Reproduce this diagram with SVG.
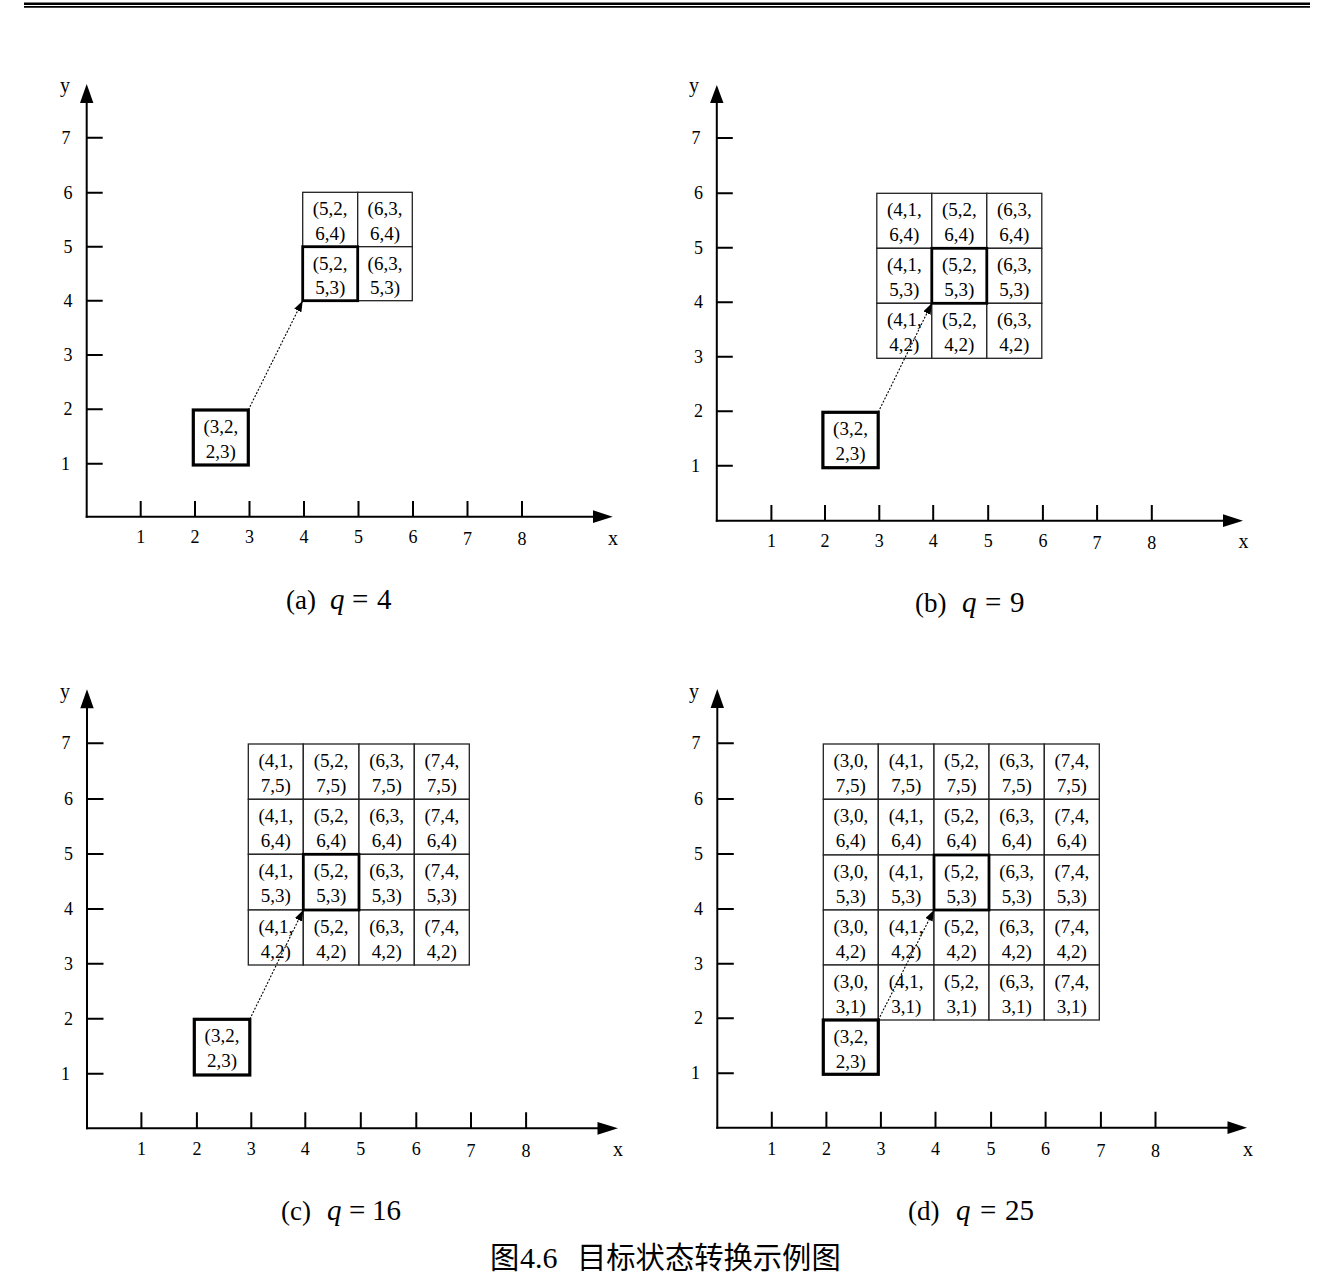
<svg xmlns="http://www.w3.org/2000/svg" width="1332" height="1280" viewBox="0 0 1332 1280">
<style>
.ax{stroke:#000;stroke-width:2;fill:none}
.ah{fill:#000}
.cell{fill:#fff;stroke:#222;stroke-width:1.3}
.bold{fill:none;stroke:#000;stroke-width:2.8}
.sbox{fill:#fff;stroke:#000;stroke-width:3.2}
.lbl{font-family:"Liberation Serif","Times New Roman",serif;font-size:18px;text-anchor:middle;fill:#000}
.ct{font-family:"Liberation Serif","Times New Roman",serif;font-size:19px;text-anchor:middle;fill:#000}
.cap{font-family:"Liberation Serif","Times New Roman",serif;font-size:27px;fill:#000}
.big{font-size:29px}
.it{font-style:italic}
.conn{stroke:#000;stroke-width:1.1;stroke-dasharray:2 1.6;fill:none}
.zh{font-family:"Noto Sans CJK SC","Noto Sans CJK JP",sans-serif;font-size:29.3px;fill:#000}
</style>
<defs>
<marker id="arr" markerUnits="userSpaceOnUse" markerWidth="12" markerHeight="9" refX="11" refY="4" orient="auto">
<path d="M0,0 L11,4 L0,8 z" fill="#000"/>
</marker>
</defs>
<rect width="1332" height="1280" fill="#fff"/>
<g id="header">
<line x1="24" y1="3.8" x2="1310" y2="3.8" stroke="#000" stroke-width="2.4"/>
<line x1="24" y1="6.9" x2="1310" y2="6.9" stroke="#000" stroke-width="1.6"/>
</g>

<!-- ===== Panel (a) ===== -->
<g id="axes-a">
<line class="ax" x1="86.7" y1="517.7" x2="86.7" y2="100"/>
<polygon class="ah" points="86.7,84 80,103 93.4,103"/>
<line class="ax" x1="85.7" y1="516.7" x2="596" y2="516.7"/>
<polygon class="ah" points="612.7,516.7 593,510.3 593,523.1"/>
<path class="ax" d="M86.7,137.7h16M86.7,192.7h16M86.7,246.7h16M86.7,300.7h16M86.7,355h16M86.7,409.3h16M86.7,463.7h16"/>
<path class="ax" d="M140.7,501v15.7M195,501v15.7M249.5,501v15.7M304,501v15.7M358.5,501v15.7M413,501v15.7M467.5,501v15.7M522,501v15.7"/>
<text class="lbl" x="66" y="143.7">7</text><text class="lbl" x="68" y="198.7">6</text><text class="lbl" x="68" y="252.7">5</text><text class="lbl" x="68" y="306.7">4</text><text class="lbl" x="68" y="361">3</text><text class="lbl" x="68" y="415.3">2</text><text class="lbl" x="65.5" y="469.7">1</text>
<text class="lbl" x="140.7" y="543">1</text><text class="lbl" x="195" y="543">2</text><text class="lbl" x="249.5" y="543">3</text><text class="lbl" x="304" y="543">4</text><text class="lbl" x="358.5" y="543">5</text><text class="lbl" x="413" y="543">6</text><text class="lbl" x="467.5" y="545">7</text><text class="lbl" x="522" y="545">8</text>
<text class="lbl" x="65" y="92" style="font-size:20px">y</text>
<text class="lbl" x="613" y="545" style="font-size:20px">x</text>
</g>
<g id="a-5264"><rect class="cell" x="302.7" y="192.3" width="55" height="54.4"/><text class="ct" x="330.2" y="215.3">(5,2,</text><text class="ct" x="330.2" y="239.8">6,4)</text></g>
<g id="a-6364"><rect class="cell" x="357.7" y="192.3" width="54.6" height="54.4"/><text class="ct" x="385" y="215.3">(6,3,</text><text class="ct" x="385" y="239.8">6,4)</text></g>
<g id="a-5253"><rect class="cell" x="302.7" y="246.7" width="55" height="54"/><text class="ct" x="330.2" y="269.7">(5,2,</text><text class="ct" x="330.2" y="294.2">5,3)</text></g>
<g id="a-6353"><rect class="cell" x="357.7" y="246.7" width="54.6" height="54"/><text class="ct" x="385" y="269.7">(6,3,</text><text class="ct" x="385" y="294.2">5,3)</text></g>
<g id="a-target"><rect class="bold" x="302.7" y="246.7" width="55" height="54"/></g>
<g id="a-start"><rect class="sbox" x="193.3" y="410" width="55" height="55"/><text class="ct" x="220.8" y="433">(3,2,</text><text class="ct" x="220.8" y="457.5">2,3)</text></g>

<!-- ===== Panel (b) ===== -->
<g id="axes-b">
<line class="ax" x1="716.8" y1="521.7" x2="716.8" y2="100"/>
<polygon class="ah" points="716.8,85 710.1,103 723.5,103"/>
<line class="ax" x1="715.8" y1="520.7" x2="1226" y2="520.7"/>
<polygon class="ah" points="1243,520.7 1223,514.3 1223,527.1"/>
<path class="ax" d="M716.8,138h16M716.8,193.3h16M716.8,247.7h16M716.8,302.3h16M716.8,356.7h16M716.8,411.3h16M716.8,465.7h16"/>
<path class="ax" d="M771.4,505v15.7M825,505v15.7M879.3,505v15.7M933.2,505v15.7M988.2,505v15.7M1042.9,505v15.7M1097.1,505v15.7M1151.8,505v15.7"/>
<text class="lbl" x="696" y="144">7</text><text class="lbl" x="698.5" y="199.3">6</text><text class="lbl" x="698.5" y="253.7">5</text><text class="lbl" x="698.5" y="308.3">4</text><text class="lbl" x="698.5" y="362.7">3</text><text class="lbl" x="698.5" y="417.3">2</text><text class="lbl" x="695.5" y="471.7">1</text>
<text class="lbl" x="771.4" y="547">1</text><text class="lbl" x="825" y="547">2</text><text class="lbl" x="879.3" y="547">3</text><text class="lbl" x="933.2" y="547">4</text><text class="lbl" x="988.2" y="547">5</text><text class="lbl" x="1042.9" y="547">6</text><text class="lbl" x="1097.1" y="549">7</text><text class="lbl" x="1151.8" y="549">8</text>
<text class="lbl" x="694" y="92" style="font-size:20px">y</text>
<text class="lbl" x="1243.6" y="548" style="font-size:20px">x</text>
</g>
<g id="b-4164"><rect class="cell" x="876.8" y="193.3" width="55" height="55"/><text class="ct" x="904.3" y="216.3">(4,1,</text><text class="ct" x="904.3" y="240.8">6,4)</text></g>
<g id="b-5264"><rect class="cell" x="931.8" y="193.3" width="55" height="55"/><text class="ct" x="959.3" y="216.3">(5,2,</text><text class="ct" x="959.3" y="240.8">6,4)</text></g>
<g id="b-6364"><rect class="cell" x="986.8" y="193.3" width="55" height="55"/><text class="ct" x="1014.3" y="216.3">(6,3,</text><text class="ct" x="1014.3" y="240.8">6,4)</text></g>
<g id="b-4153"><rect class="cell" x="876.8" y="248.3" width="55" height="55"/><text class="ct" x="904.3" y="271.3">(4,1,</text><text class="ct" x="904.3" y="295.8">5,3)</text></g>
<g id="b-5253"><rect class="cell" x="931.8" y="248.3" width="55" height="55"/><text class="ct" x="959.3" y="271.3">(5,2,</text><text class="ct" x="959.3" y="295.8">5,3)</text></g>
<g id="b-6353"><rect class="cell" x="986.8" y="248.3" width="55" height="55"/><text class="ct" x="1014.3" y="271.3">(6,3,</text><text class="ct" x="1014.3" y="295.8">5,3)</text></g>
<g id="b-4142"><rect class="cell" x="876.8" y="303.3" width="55" height="55"/><text class="ct" x="904.3" y="326.3">(4,1,</text><text class="ct" x="904.3" y="350.8">4,2)</text></g>
<g id="b-5242"><rect class="cell" x="931.8" y="303.3" width="55" height="55"/><text class="ct" x="959.3" y="326.3">(5,2,</text><text class="ct" x="959.3" y="350.8">4,2)</text></g>
<g id="b-6342"><rect class="cell" x="986.8" y="303.3" width="55" height="55"/><text class="ct" x="1014.3" y="326.3">(6,3,</text><text class="ct" x="1014.3" y="350.8">4,2)</text></g>
<g id="b-target"><rect class="bold" x="931.8" y="248.3" width="55" height="55"/></g>
<g id="b-start"><rect class="sbox" x="822.9" y="412.3" width="55.3" height="55.4"/><text class="ct" x="850.5" y="435.3">(3,2,</text><text class="ct" x="850.5" y="459.8">2,3)</text></g>

<!-- ===== Panel (c) ===== -->
<g id="axes-c">
<line class="ax" x1="87" y1="1129.3" x2="87" y2="706"/>
<polygon class="ah" points="87,689.3 80.3,708.3 93.7,708.3"/>
<line class="ax" x1="86" y1="1128.3" x2="600" y2="1128.3"/>
<polygon class="ah" points="618,1128.3 597.5,1121.9 597.5,1134.7"/>
<path class="ax" d="M87,743.3h16.5M87,799h16.5M87,854h16.5M87,909h16.5M87,963.7h16.5M87,1018.7h16.5M87,1073.7h16.5"/>
<path class="ax" d="M141.4,1112.3v16M196.9,1112.3v16M251.3,1112.3v16M305.3,1112.3v16M360.8,1112.3v16M416.3,1112.3v16M471,1112.3v16M526.1,1112.3v16"/>
<text class="lbl" x="66" y="749.3">7</text><text class="lbl" x="68.5" y="805">6</text><text class="lbl" x="68.5" y="860">5</text><text class="lbl" x="68.5" y="915">4</text><text class="lbl" x="68.5" y="969.7">3</text><text class="lbl" x="68.5" y="1024.7">2</text><text class="lbl" x="65.5" y="1079.7">1</text>
<text class="lbl" x="141.4" y="1155">1</text><text class="lbl" x="196.9" y="1155">2</text><text class="lbl" x="251.3" y="1155">3</text><text class="lbl" x="305.3" y="1155">4</text><text class="lbl" x="360.8" y="1155">5</text><text class="lbl" x="416.3" y="1155">6</text><text class="lbl" x="471" y="1157">7</text><text class="lbl" x="526.1" y="1157">8</text>
<text class="lbl" x="65" y="698" style="font-size:20px">y</text>
<text class="lbl" x="618" y="1156" style="font-size:20px">x</text>
</g>
<g id="c-4175"><rect class="cell" x="248.3" y="744" width="55" height="55.3"/><text class="ct" x="275.8" y="767">(4,1,</text><text class="ct" x="275.8" y="791.5">7,5)</text></g>
<g id="c-5275"><rect class="cell" x="303.3" y="744" width="55.7" height="55.3"/><text class="ct" x="331.2" y="767">(5,2,</text><text class="ct" x="331.2" y="791.5">7,5)</text></g>
<g id="c-6375"><rect class="cell" x="359" y="744" width="55.3" height="55.3"/><text class="ct" x="386.7" y="767">(6,3,</text><text class="ct" x="386.7" y="791.5">7,5)</text></g>
<g id="c-7475"><rect class="cell" x="414.3" y="744" width="55" height="55.3"/><text class="ct" x="441.8" y="767">(7,4,</text><text class="ct" x="441.8" y="791.5">7,5)</text></g>
<g id="c-4164"><rect class="cell" x="248.3" y="799.3" width="55" height="55"/><text class="ct" x="275.8" y="822.3">(4,1,</text><text class="ct" x="275.8" y="846.8">6,4)</text></g>
<g id="c-5264"><rect class="cell" x="303.3" y="799.3" width="55.7" height="55"/><text class="ct" x="331.2" y="822.3">(5,2,</text><text class="ct" x="331.2" y="846.8">6,4)</text></g>
<g id="c-6364"><rect class="cell" x="359" y="799.3" width="55.3" height="55"/><text class="ct" x="386.7" y="822.3">(6,3,</text><text class="ct" x="386.7" y="846.8">6,4)</text></g>
<g id="c-7464"><rect class="cell" x="414.3" y="799.3" width="55" height="55"/><text class="ct" x="441.8" y="822.3">(7,4,</text><text class="ct" x="441.8" y="846.8">6,4)</text></g>
<g id="c-4153"><rect class="cell" x="248.3" y="854.3" width="55" height="55.7"/><text class="ct" x="275.8" y="877.3">(4,1,</text><text class="ct" x="275.8" y="901.8">5,3)</text></g>
<g id="c-5253"><rect class="cell" x="303.3" y="854.3" width="55.7" height="55.7"/><text class="ct" x="331.2" y="877.3">(5,2,</text><text class="ct" x="331.2" y="901.8">5,3)</text></g>
<g id="c-6353"><rect class="cell" x="359" y="854.3" width="55.3" height="55.7"/><text class="ct" x="386.7" y="877.3">(6,3,</text><text class="ct" x="386.7" y="901.8">5,3)</text></g>
<g id="c-7453"><rect class="cell" x="414.3" y="854.3" width="55" height="55.7"/><text class="ct" x="441.8" y="877.3">(7,4,</text><text class="ct" x="441.8" y="901.8">5,3)</text></g>
<g id="c-4142"><rect class="cell" x="248.3" y="910" width="55" height="55"/><text class="ct" x="275.8" y="933">(4,1,</text><text class="ct" x="275.8" y="957.5">4,2)</text></g>
<g id="c-5242"><rect class="cell" x="303.3" y="910" width="55.7" height="55"/><text class="ct" x="331.2" y="933">(5,2,</text><text class="ct" x="331.2" y="957.5">4,2)</text></g>
<g id="c-6342"><rect class="cell" x="359" y="910" width="55.3" height="55"/><text class="ct" x="386.7" y="933">(6,3,</text><text class="ct" x="386.7" y="957.5">4,2)</text></g>
<g id="c-7442"><rect class="cell" x="414.3" y="910" width="55" height="55"/><text class="ct" x="441.8" y="933">(7,4,</text><text class="ct" x="441.8" y="957.5">4,2)</text></g>
<g id="c-target"><rect class="bold" x="303.3" y="854.3" width="55.7" height="55.7"/></g>
<g id="c-start"><rect class="sbox" x="194.3" y="1019.3" width="55.5" height="55.7"/><text class="ct" x="222" y="1042.3">(3,2,</text><text class="ct" x="222" y="1066.8">2,3)</text></g>

<!-- ===== Panel (d) ===== -->
<g id="axes-d">
<line class="ax" x1="717.3" y1="1128.7" x2="717.3" y2="706"/>
<polygon class="ah" points="717.3,689 710.6,708 724,708"/>
<line class="ax" x1="716.3" y1="1127.7" x2="1230" y2="1127.7"/>
<polygon class="ah" points="1247,1127.7 1227.5,1121.3 1227.5,1134.1"/>
<path class="ax" d="M717.3,743.3h16.5M717.3,799h16.5M717.3,854h16.5M717.3,909h16.5M717.3,963.7h16.5M717.3,1018.3h16.5M717.3,1073.3h16.5"/>
<path class="ax" d="M771.8,1111.7v16M826.4,1111.7v16M880.9,1111.7v16M935.5,1111.7v16M991.1,1111.7v16M1045.6,1111.7v16M1100.9,1111.7v16M1155.5,1111.7v16"/>
<text class="lbl" x="696" y="749.3">7</text><text class="lbl" x="698.5" y="805">6</text><text class="lbl" x="698.5" y="860">5</text><text class="lbl" x="698.5" y="915">4</text><text class="lbl" x="698.5" y="969.7">3</text><text class="lbl" x="698.5" y="1024.3">2</text><text class="lbl" x="695.5" y="1079.3">1</text>
<text class="lbl" x="771.8" y="1154.5">1</text><text class="lbl" x="826.4" y="1154.5">2</text><text class="lbl" x="880.9" y="1154.5">3</text><text class="lbl" x="935.5" y="1154.5">4</text><text class="lbl" x="991.1" y="1154.5">5</text><text class="lbl" x="1045.6" y="1154.5">6</text><text class="lbl" x="1100.9" y="1156.5">7</text><text class="lbl" x="1155.5" y="1156.5">8</text>
<text class="lbl" x="694" y="698" style="font-size:20px">y</text>
<text class="lbl" x="1248" y="1156" style="font-size:20px">x</text>
</g>
<g id="d-3075"><rect class="cell" x="823.3" y="744" width="55" height="55.3"/><text class="ct" x="850.8" y="767">(3,0,</text><text class="ct" x="850.8" y="791.5">7,5)</text></g>
<g id="d-4175"><rect class="cell" x="878.3" y="744" width="55.7" height="55.3"/><text class="ct" x="906.2" y="767">(4,1,</text><text class="ct" x="906.2" y="791.5">7,5)</text></g>
<g id="d-5275"><rect class="cell" x="934" y="744" width="55" height="55.3"/><text class="ct" x="961.5" y="767">(5,2,</text><text class="ct" x="961.5" y="791.5">7,5)</text></g>
<g id="d-6375"><rect class="cell" x="989" y="744" width="55.3" height="55.3"/><text class="ct" x="1016.7" y="767">(6,3,</text><text class="ct" x="1016.7" y="791.5">7,5)</text></g>
<g id="d-7475"><rect class="cell" x="1044.3" y="744" width="55" height="55.3"/><text class="ct" x="1071.8" y="767">(7,4,</text><text class="ct" x="1071.8" y="791.5">7,5)</text></g>
<g id="d-3064"><rect class="cell" x="823.3" y="799.3" width="55" height="55.7"/><text class="ct" x="850.8" y="822.3">(3,0,</text><text class="ct" x="850.8" y="846.8">6,4)</text></g>
<g id="d-4164"><rect class="cell" x="878.3" y="799.3" width="55.7" height="55.7"/><text class="ct" x="906.2" y="822.3">(4,1,</text><text class="ct" x="906.2" y="846.8">6,4)</text></g>
<g id="d-5264"><rect class="cell" x="934" y="799.3" width="55" height="55.7"/><text class="ct" x="961.5" y="822.3">(5,2,</text><text class="ct" x="961.5" y="846.8">6,4)</text></g>
<g id="d-6364"><rect class="cell" x="989" y="799.3" width="55.3" height="55.7"/><text class="ct" x="1016.7" y="822.3">(6,3,</text><text class="ct" x="1016.7" y="846.8">6,4)</text></g>
<g id="d-7464"><rect class="cell" x="1044.3" y="799.3" width="55" height="55.7"/><text class="ct" x="1071.8" y="822.3">(7,4,</text><text class="ct" x="1071.8" y="846.8">6,4)</text></g>
<g id="d-3053"><rect class="cell" x="823.3" y="855" width="55" height="55"/><text class="ct" x="850.8" y="878">(3,0,</text><text class="ct" x="850.8" y="902.5">5,3)</text></g>
<g id="d-4153"><rect class="cell" x="878.3" y="855" width="55.7" height="55"/><text class="ct" x="906.2" y="878">(4,1,</text><text class="ct" x="906.2" y="902.5">5,3)</text></g>
<g id="d-5253"><rect class="cell" x="934" y="855" width="55" height="55"/><text class="ct" x="961.5" y="878">(5,2,</text><text class="ct" x="961.5" y="902.5">5,3)</text></g>
<g id="d-6353"><rect class="cell" x="989" y="855" width="55.3" height="55"/><text class="ct" x="1016.7" y="878">(6,3,</text><text class="ct" x="1016.7" y="902.5">5,3)</text></g>
<g id="d-7453"><rect class="cell" x="1044.3" y="855" width="55" height="55"/><text class="ct" x="1071.8" y="878">(7,4,</text><text class="ct" x="1071.8" y="902.5">5,3)</text></g>
<g id="d-3042"><rect class="cell" x="823.3" y="910" width="55" height="55"/><text class="ct" x="850.8" y="933">(3,0,</text><text class="ct" x="850.8" y="957.5">4,2)</text></g>
<g id="d-4142"><rect class="cell" x="878.3" y="910" width="55.7" height="55"/><text class="ct" x="906.2" y="933">(4,1,</text><text class="ct" x="906.2" y="957.5">4,2)</text></g>
<g id="d-5242"><rect class="cell" x="934" y="910" width="55" height="55"/><text class="ct" x="961.5" y="933">(5,2,</text><text class="ct" x="961.5" y="957.5">4,2)</text></g>
<g id="d-6342"><rect class="cell" x="989" y="910" width="55.3" height="55"/><text class="ct" x="1016.7" y="933">(6,3,</text><text class="ct" x="1016.7" y="957.5">4,2)</text></g>
<g id="d-7442"><rect class="cell" x="1044.3" y="910" width="55" height="55"/><text class="ct" x="1071.8" y="933">(7,4,</text><text class="ct" x="1071.8" y="957.5">4,2)</text></g>
<g id="d-3031"><rect class="cell" x="823.3" y="965" width="55" height="55"/><text class="ct" x="850.8" y="988">(3,0,</text><text class="ct" x="850.8" y="1012.5">3,1)</text></g>
<g id="d-4131"><rect class="cell" x="878.3" y="965" width="55.7" height="55"/><text class="ct" x="906.2" y="988">(4,1,</text><text class="ct" x="906.2" y="1012.5">3,1)</text></g>
<g id="d-5231"><rect class="cell" x="934" y="965" width="55" height="55"/><text class="ct" x="961.5" y="988">(5,2,</text><text class="ct" x="961.5" y="1012.5">3,1)</text></g>
<g id="d-6331"><rect class="cell" x="989" y="965" width="55.3" height="55"/><text class="ct" x="1016.7" y="988">(6,3,</text><text class="ct" x="1016.7" y="1012.5">3,1)</text></g>
<g id="d-7431"><rect class="cell" x="1044.3" y="965" width="55" height="55"/><text class="ct" x="1071.8" y="988">(7,4,</text><text class="ct" x="1071.8" y="1012.5">3,1)</text></g>
<g id="d-target"><rect class="bold" x="934" y="855" width="55" height="55"/></g>
<g id="d-start"><rect class="sbox" x="823.3" y="1020" width="55" height="54.3"/><text class="ct" x="850.8" y="1043">(3,2,</text><text class="ct" x="850.8" y="1067.5">2,3)</text></g>

<g id="connectors">
<line class="conn" x1="248.3" y1="410" x2="302.7" y2="300.7" marker-end="url(#arr)"/>
<line class="conn" x1="878.2" y1="412.3" x2="931.8" y2="303.3" marker-end="url(#arr)"/>
<line class="conn" x1="249.8" y1="1019.3" x2="303.3" y2="910" marker-end="url(#arr)"/>
<line class="conn" x1="878.3" y1="1020" x2="934" y2="910" marker-end="url(#arr)"/>
</g>

<g id="captions">
<text class="cap" x="286" y="609">(a)</text><text class="cap big it" x="330" y="609">q</text><text class="cap big" x="352" y="609">=</text><text class="cap big" x="377" y="609">4</text>
<text class="cap" x="915" y="612">(b)</text><text class="cap big it" x="962" y="612">q</text><text class="cap big" x="985" y="612">=</text><text class="cap big" x="1010" y="612">9</text>
<text class="cap" x="281" y="1220">(c)</text><text class="cap big it" x="327" y="1220">q</text><text class="cap big" x="349" y="1220">=</text><text class="cap big" x="372" y="1220">16</text>
<text class="cap" x="908" y="1220">(d)</text><text class="cap big it" x="956" y="1220">q</text><text class="cap big" x="980" y="1220">=</text><text class="cap big" x="1005" y="1220">25</text>
<text class="zh" x="490" y="1268">图</text>
<text class="cap" x="520" y="1268" style="font-size:30px">4.6</text>
<text class="zh" x="577" y="1268">目标状态转换示例图</text>
</g>
</svg>
